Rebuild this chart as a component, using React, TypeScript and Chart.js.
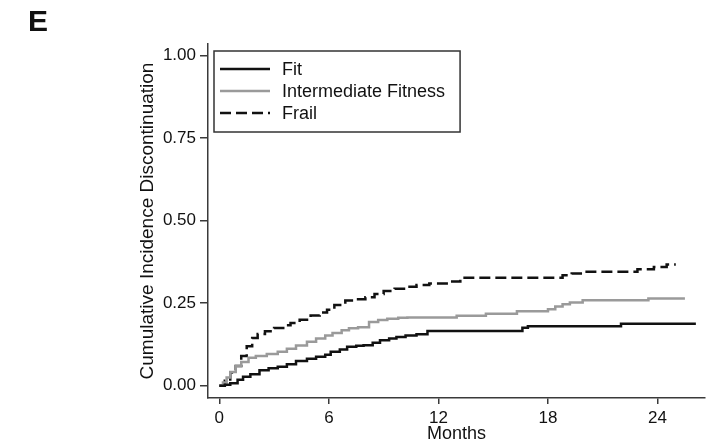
import { useEffect, useRef } from 'react';
import { Chart, registerables } from 'chart.js';

Chart.register(...registerables);

// cumulative incidence of discontinuation (months, value)
const fitMonths = [0, 0.3, 0.6, 1.0, 1.3, 1.7, 2.2, 2.7, 3.2, 3.7, 4.2, 4.8, 5.3, 5.8, 6.1, 6.6, 7.0, 7.5, 7.9, 8.4, 8.8, 9.3, 9.7, 10.2, 10.8, 11.4, 16.6, 16.9, 22.0, 26.1];
const fitValues = [0, 0.003, 0.008, 0.018, 0.027, 0.035, 0.047, 0.053, 0.058, 0.065, 0.075, 0.082, 0.088, 0.094, 0.103, 0.11, 0.118, 0.121, 0.123, 0.13, 0.138, 0.143, 0.148, 0.152, 0.156, 0.166, 0.176, 0.18, 0.188, 0.188];

const midMonths = [0, 0.2, 0.4, 0.6, 0.9, 1.2, 1.6, 2.0, 2.6, 3.2, 3.7, 4.2, 4.8, 5.3, 5.8, 6.2, 6.7, 7.1, 7.6, 8.2, 8.7, 9.2, 9.8, 10.3, 13.0, 14.6, 16.3, 18.0, 18.4, 18.8, 19.2, 19.9, 23.5, 25.5];
const midValues = [0, 0.01, 0.025, 0.042, 0.06, 0.072, 0.085, 0.09, 0.096, 0.103, 0.112, 0.122, 0.133, 0.143, 0.152, 0.16, 0.168, 0.174, 0.177, 0.193, 0.199, 0.203, 0.206, 0.207, 0.212, 0.218, 0.226, 0.232, 0.24, 0.247, 0.252, 0.259, 0.264, 0.264];

const frailMonths = [0, 0.3, 0.6, 0.9, 1.2, 1.5, 1.8, 2.1, 2.5, 3.0, 3.5, 3.9, 4.4, 5.0, 5.5, 5.9, 6.3, 6.9, 7.5, 8.0, 8.5, 9.0, 9.6, 10.2, 10.8, 11.5, 12.6, 13.2, 18.8, 19.3, 19.9, 22.9, 23.8, 24.5, 25.0];
const frailValues = [0, 0.015, 0.04, 0.06, 0.09, 0.12, 0.145, 0.157, 0.165, 0.175, 0.183, 0.19, 0.2, 0.213, 0.222, 0.23, 0.245, 0.258, 0.262, 0.268, 0.278, 0.287, 0.294, 0.3, 0.305, 0.31, 0.316, 0.327, 0.335, 0.34, 0.345, 0.353, 0.36, 0.367, 0.367];

const seriesLabels = ['Fit', 'Intermediate Fitness', 'Frail'];
const xTickValues = [0, 6, 12, 18, 24];
const yTickValues = [0, 0.25, 0.5, 0.75, 1];

const FONT = '"Liberation Sans", Arial, sans-serif';
const AXIS = '#3a3a3a';

const toPoints = (xs: number[], ys: number[]) => xs.map((x, i) => ({ x, y: ys[i] }));

// boxed legend drawn inside the plot, top-left
const boxedLegend = {
  id: 'boxedLegend',
  afterDraw(chart: any) {
    const ctx = chart.ctx;
    const { left, top } = chart.chartArea;
    const bx = left + 6;
    const by = top + 7;
    ctx.save();
    ctx.font = `18px ${FONT}`;
    const maxW = Math.max(...chart.data.datasets.map((d: any) => ctx.measureText(d.label).width));
    const bw = 68 + maxW + 15;
    const bh = 81;
    ctx.strokeStyle = '#333';
    ctx.lineWidth = 1.5;
    ctx.strokeRect(bx, by, bw, bh);
    chart.data.datasets.forEach((ds: any, i: number) => {
      const y = by + 18 + i * 22;
      ctx.strokeStyle = ds.borderColor;
      ctx.lineWidth = ds.borderWidth;
      ctx.setLineDash(ds.borderDash || []);
      ctx.beginPath();
      ctx.moveTo(bx + 6, y);
      ctx.lineTo(bx + 56, y);
      ctx.stroke();
      ctx.setLineDash([]);
      ctx.fillStyle = '#111';
      ctx.textBaseline = 'middle';
      ctx.textAlign = 'left';
      ctx.fillText(ds.label, bx + 68, y + 1);
    });
    ctx.restore();
  },
};

const App = () => {
  const chartRef = useRef<HTMLCanvasElement>(null);
  const chartInstanceRef = useRef<Chart | null>(null);

  useEffect(() => {
    const ctx = chartRef.current!.getContext('2d')!;

    if (chartInstanceRef.current) {
      chartInstanceRef.current.destroy();
    }

    chartInstanceRef.current = new Chart(ctx, {
      type: 'line',
      data: {
        datasets: [
          {
            label: seriesLabels[0],
            data: toPoints(fitMonths, fitValues),
            borderColor: '#111111',
            borderWidth: 2.5,
            stepped: true,
            pointRadius: 0,
            fill: false,
          },
          {
            label: seriesLabels[1],
            data: toPoints(midMonths, midValues),
            borderColor: '#9a9a9a',
            borderWidth: 2.5,
            stepped: true,
            pointRadius: 0,
            fill: false,
          },
          {
            label: seriesLabels[2],
            data: toPoints(frailMonths, frailValues),
            borderColor: '#111111',
            borderWidth: 2.5,
            borderDash: [11, 5],
            stepped: true,
            pointRadius: 0,
            fill: false,
          },
        ],
      },
      options: {
        responsive: false,
        animation: false,
        layout: { padding: { left: 28, right: 10, top: 0, bottom: 0 } },
        plugins: {
          legend: { display: false },
          tooltip: { enabled: false },
          title: {
            display: true,
            text: 'E',
            align: 'start',
            color: '#111',
            font: { family: FONT, size: 30, weight: 'bold', lineHeight: 1 },
            padding: { top: 8, bottom: 6 },
          },
        },
        scales: {
          x: {
            type: 'linear',
            min: -0.62,
            max: 26.6,
            afterBuildTicks: (scale: any) => {
              scale.ticks = xTickValues.map((v) => ({ value: v }));
            },
            afterFit: (scale: any) => {
              scale.height = 47;
            },
            grid: { display: true, drawOnChartArea: false, drawTicks: true, tickLength: 6, color: AXIS, lineWidth: 1.5 },
            border: { display: true, color: AXIS, width: 1.5 },
            ticks: {
              color: '#111',
              padding: 6,
              maxRotation: 0,
              font: { family: FONT, size: 17, lineHeight: 1 },
              callback: (v: any) => String(v),
            },
            title: {
              display: true,
              text: 'Months',
              color: '#111',
              font: { family: FONT, size: 18, lineHeight: 1 },
              padding: { top: 0, bottom: 1.5 },
            },
          },
          y: {
            type: 'linear',
            min: -0.037,
            max: 1.035,
            afterBuildTicks: (scale: any) => {
              scale.ticks = yTickValues.map((v) => ({ value: v }));
            },
            afterFit: (scale: any) => {
              scale.width = 180;
            },
            grid: { display: true, drawOnChartArea: false, drawTicks: true, tickLength: 8, color: AXIS, lineWidth: 1.5 },
            border: { display: true, color: AXIS, width: 1.5 },
            ticks: {
              color: '#111',
              padding: 4,
              font: { family: FONT, size: 17, lineHeight: 1 },
              callback: (v: any) => Number(v).toFixed(2),
            },
            title: {
              display: true,
              text: 'Cumulative Incidence Discontinuation',
              color: '#111',
              font: { family: FONT, size: 19, lineHeight: 1 },
              padding: { top: 110, bottom: 0 },
            },
          },
        },
      },
      plugins: [boxedLegend],
    });

    return () => {
      if (chartInstanceRef.current) {
        chartInstanceRef.current.destroy();
        chartInstanceRef.current = null;
      }
    };
  }, []);

  return (
    <div style={{ position: 'absolute', left: 0, top: 0, width: 715, height: 445, background: '#fff' }}>
      <canvas ref={chartRef} width={715} height={445}></canvas>
    </div>
  );
};

export default App;
